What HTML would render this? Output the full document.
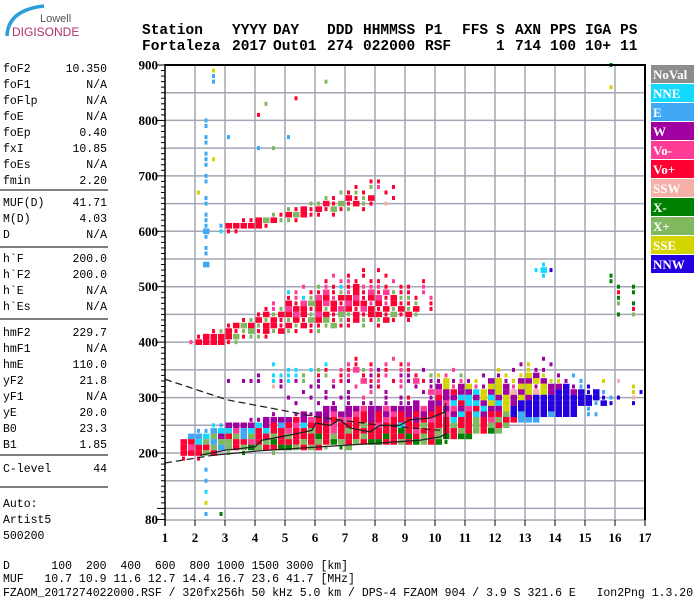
<!DOCTYPE html>
<html><head><meta charset="utf-8"><style>
html,body{margin:0;padding:0;background:#fff;}
svg{display:block;}
.mono{font-family:"Liberation Mono",monospace;font-size:11.5px;fill:#000;}
.hdr{font-family:"Liberation Mono",monospace;font-size:14.5px;font-weight:bold;fill:#000;}
.ax{font-family:"Liberation Serif",serif;font-size:13px;font-weight:bold;fill:#000;}
.lg{font-family:"Liberation Serif",serif;font-size:13px;font-weight:bold;fill:#fff;}
</style></head><body>
<svg id="chart" width="700" height="600" viewBox="0 0 700 600" xmlns="http://www.w3.org/2000/svg">
<g>
<path d="M7 36 Q8 10 44 6" stroke="#2a9fd8" stroke-width="3.5" fill="none"/>
<text x="40" y="22" style="font-family:'Liberation Sans',sans-serif;font-size:11px;fill:#555">Lowell</text>
<text x="12" y="36" style="font-family:'Liberation Sans',sans-serif;font-size:12px;fill:#b0306a">DIGISONDE</text>
</g>
<g id="header"></g>
<g id="leftpanel"></g>
<g id="grid"></g>
<g id="cells"></g>
<g id="curves"></g>
<g id="axes"></g>
<g id="legend"></g>
<g>
<text class="mono" x="3" y="569" xml:space="preserve">D      100  200  400  600  800 1000 1500 3000 [km]</text>
<text class="mono" x="3" y="582" xml:space="preserve">MUF   10.7 10.9 11.6 12.7 14.4 16.7 23.6 41.7 [MHz]</text>
<text class="mono" x="3" y="596" xml:space="preserve">FZAOM_2017274022000.RSF / 320fx256h 50 kHz 5.0 km / DPS-4 FZAOM 904 / 3.9 S 321.6 E   Ion2Png 1.3.20</text>
</g>
</svg>
<script>
const xTicks = [1,2,3,4,5,6,7,8,9,10,11,12,13,14,15,16,17];
const yTickLabels = [900,800,700,600,500,400,300,200,80];
const legendNames = ["NoVal","NNE","E","W","Vo-","Vo+","SSW","X-","X+","SSE","NNW"];
const legendColors = ["#8c8c8c","#14d9ff","#3fa9f5","#a0009f","#ff3c96","#ff0033","#f5b0a8","#008000","#80b860","#d4d400","#2200e0"];
const cellCodes = ["N","C","E","W","M","R","S","G","L","Y","B"];
const rowHeights = [900,890,880,870,860,840,830,810,800,790,780,770,760,750,740,730,720,710,700,690,680,670,660,650,640,630,620,610,600,590,580,570,560,540,530,520,510,500,490,480,470,460,450,440,430,420,410,400,370,360,350,340,330,320,310,300,290,280,270,260,250,240,230,220,210,200,190,170,150,130,110,90];
const rowCells = [
".... .... .... .... .... .... .... .... .... .... .... .... .... .... ...g",
".... ..y.",
".... ..e.",
".... ..e. .... .... .... .l..",
".... .... .... .... .... .... .... .... .... .... .... .... .... .... ...y",
".... .... .... .... .r..",
".... .... .... .l..",
".... .... .... r...",
".... .e..",
".... .e..",
"....",
".... .e.. e... .... e...",
".... .e..",
".... .... .... e.l.",
".... .e..",
".... .ey.",
".... .e..",
"....",
".... .e..",
".... .e.. .... .... .... .... ...r r...",
".... .... .... .... .... .... .r.l m.r.",
".... y... .... .... .... ...l rlr. .r..",
".... .e.. .... .... .... .lr. RrlR ..r.",
".... .e.. .... .... ...l lRrL rRlr .s..",
".... .... .... .... lrRr RrLr l.r.",
".... .e.. .... ..lr RLRr r.r.",
".... .e.. ..rr RLRl lr..",
".... .e.e RRRR Rr..",
".... .E.c rr..",
".... .e..",
"....",
".... .e..",
".... .e..",
".... .E.. .... .... .... .... .... .... .... .... .... .... ..c.",
".... .... .... .... .... .... ..r. r... .... .... .... .... .cCb",
".... .... .... .... .... ..m. r.r. .r.. .... .... .... .... ..c. .... ...g",
".... .... .... .... .... .r.m mr.r r.m. ..r. .... .... .... .... .... ...g",
".... .... .... .... ..m. lmrc rRmm mr.r r.m. .... .... .... .... .... .... g.g.",
".... .... .... .... cm.r rMrl mRrM rMlr r.m. .... .... .... .... .... .... r.g.",
".... .... .... .... rmcl MRmR RMrR MrRl lr.m .... .... .... .... .... .... g...",
".... .... .... ..m. RrML RMRr MRRm RmRr rl.r .... .... .... .... .... .... l.g.",
".... .... .... .rml MRRr RlRM RrMR rRlR lR.r .... .... .... .... .... .... ..r.",
".... .... .... rRlR RMRl MRrL lRrR RrLr Rl.. .... .... .... .... .... .... g.l.",
".... .... ..rl RlRr lRrL RLrl rRlr lRr. r...",
".... .... rRLR lRRr RlRr rlLr r.l. r...",
".... ..rl RrlL rRlR lr.r l...",
".... rRRR RLrl lr..",
"...m RRRR rl..",
".... .... .... .... .... .... .r.. ..m. .... .... .... .... ..w.",
".... .... .... ..c. .... .c.. mr.r .m.r m... .... .... ...w y..w",
".... .... .... .... cc.c lr.m rMlm wr.m r.w. ..m. .... y.w. yww.",
".... .... .... w.cc ccl. rl.r m.rw rm.w wr.l ym.l ..w. wy.y YWy. w.e.",
".... .... w.ww w.cw cwl. w.mr w.Mr m.rm wMrw wYwm wy.W YwyW WYWy yw.e ..y. s...",
".... .... .... ..sw ...w w.w. .m.w r..m .w.w WYmW YmwY YWmY YwYW WBwe b... ..y.",
".... .... .... .... ..w. .w.. w..m .w.. ..wM MWRW WCYW YWSW YSYW BBWB bBe. ..yb",
".... .... .... .... w..w .w.w w.m. .w.w r..w RWWC CWYC WYWY WBBB BBBB BBbe b.s.",
".... .... .... .... .w.. w.w. w.ww .w.w wW.W WMCR CCWY CYWB BBBB BBBB BeBb ..b.",
".... .... .... .... .... .WW. WWMW WMWW WWMW RWMW MRCW WYBB BBBB BBB. e...",
".... .... .... ..w. .wWw WWMW WMRW RWMR WRWR RMWC RCWR RLBE BBBE BBB. ee..",
".... .... ...w wWWW WRWM RWRM MRRW RMRR RWRM RRCR RLRM LRRE EE..",
".... ..ce WWWW CWRE RMCR RRMR RRLR MRRC RRLR RRLR RLRL RL..",
".... eeEC CMEC RCRR MRRL RRMR LRRR RRRG RMRR LRRL RLRG L...",
"...E ECLW RLEL RRLR LRRR GRLR RRLR RGRR GRLR LGRG G...",
"..RR CLEL LRRM RLGR RRLR LRGL RLRG GRRL RGLR Gg..",
"..RM RRLE LRLG LRRG GLRL Rl.g L...",
"..RR RLR. l.g. ..l.",
"..r. r...",
".... .e..",
".... .e..",
".... .c..",
".... .y..",
".... .e.g"
];
const upperDashF = [1,3.07,6.07,8.17,10.17];
const upperDashH = [333,296,265,250,241];
const lowerDashF = [1,2.6];
const lowerDashH = [182,196];
const solidF = [2.6,4.17,6.17,8.17,9.5,10.17,10.4];
const solidH = [196,204,211,218,223,229,236];
const jagF = [2.17,3,4,4.23,4.83,5.5,5.9,6.03,6.5,6.83,7.17,7.83,8.17,8.83,9.17,9.83,10.33];
const jagH = [196,205,211,223,229,236,241,254,250,260,245,238,250,250,260,263,274];
const paramNames = ["foF2","foF1","foFlp","foE","foEp","fxI","foEs","fmin","MUF(D)","M(D)","D","h`F","h`F2","h`E","h`Es","hmF2","hmF1","hmE","yF2","yF1","yE","B0","B1","C-level"];
const paramValues = ["10.350","N/A","N/A","N/A","0.40","10.85","N/A","2.20","41.71","4.03","N/A","200.0","200.0","N/A","N/A","229.7","N/A","110.0","21.8","N/A","20.0","23.3","1.85","44"];
const paramY = [72,88,104,120,136,152,168,184,206,222,238,262,278,294,310,336,352,368,384,400,416,432,448,472];
const hdrTop = ["Station","YYYY","DAY","DDD","HHMMSS","P1","FFS","S","AXN","PPS","IGA","PS"];
const hdrTopX = [142,232,273,327,363,425,462,496,515,550,585,620];
const hdrBot = ["Fortaleza","2017","Out01","274","022000","RSF","1","714","100","10+","11"];
const hdrBotX = [142,232,273,327,363,425,496,515,550,585,620];

const NS="http://www.w3.org/2000/svg";
const xOf = f => 165 + (f-1)*30;
const yOf = h => 453 - (h-200)*0.5543;
function mk(tag, parent){ const e=document.createElementNS(NS,tag); parent.appendChild(e); return e; }

const hdr=document.getElementById('header');
hdrTop.forEach((t,i)=>{ const e=mk('text',hdr); e.setAttribute('class','hdr'); e.setAttribute('x',hdrTopX[i]); e.setAttribute('y',34); e.textContent=t;

 });
hdrBot.forEach((t,i)=>{ const e=mk('text',hdr); e.setAttribute('class','hdr'); e.setAttribute('x',hdrBotX[i]); e.setAttribute('y',50); e.textContent=t;

 });

const lp=document.getElementById('leftpanel');
paramNames.forEach((n,i)=>{
 const a=mk('text',lp); a.setAttribute('class','mono'); a.setAttribute('x',3); a.setAttribute('y',paramY[i]); a.textContent=n;
 
 
 const b=mk('text',lp); b.setAttribute('class','mono'); b.setAttribute('x',107); b.setAttribute('y',paramY[i]); b.setAttribute('text-anchor','end'); b.textContent=paramValues[i];
 
 
});
[190,247,319,455,487].forEach(y=>{ const l=mk('line',lp); l.setAttribute('x1',0); l.setAttribute('x2',108); l.setAttribute('y1',y); l.setAttribute('y2',y); l.setAttribute('stroke','#000');
 
  });
[["Auto:",507],["Artist5",523],["500200",539]].forEach(p=>{ const a=mk('text',lp); a.setAttribute('class','mono'); a.setAttribute('x',3); a.setAttribute('y',p[1]); a.textContent=p[0];
 
  });

const g=document.getElementById('grid');
for(let f=2; f<=16; f++){ const l=mk('line',g); l.setAttribute('x1',xOf(f)); l.setAttribute('x2',xOf(f)); l.setAttribute('y1',65); l.setAttribute('y2',520); l.setAttribute('stroke','#a4a6b4'); l.setAttribute('stroke-width','1.5');
 
  }
for(let h=100; h<=850; h+=50){ const l=mk('line',g); l.setAttribute('x1',165); l.setAttribute('x2',645); l.setAttribute('y1',yOf(h)); l.setAttribute('y2',yOf(h)); l.setAttribute('stroke','#a4a6b4'); l.setAttribute('stroke-width','1.5');
 
  }
{ const l=mk('line',g); l.setAttribute('x1',165); l.setAttribute('x2',645); l.setAttribute('y1',520); l.setAttribute('y2',520); l.setAttribute('stroke','#a4a6b4'); l.setAttribute('stroke-width','1.5');
 
  }

const colorOf={}; cellCodes.forEach((c,i)=>colorOf[c]=legendColors[i]);
const cg=document.getElementById('cells');
rowHeights.forEach((h,i)=>{
 const s=rowCells[i].replace(/ /g,'');
 for(let j=0;j<s.length;j++){
  const ch=s[j]; if(ch==='.') continue;
  const up=ch.toUpperCase(); const big=(ch===up);
  const x=xOf(1+j*0.25), y=yOf(h+5);
  const r=mk('rect',cg);
  if(big){ r.setAttribute('x',x+0.5); r.setAttribute('y',y); r.setAttribute('width',6.5); r.setAttribute('height',5.6); }
  else { r.setAttribute('x',x+2); r.setAttribute('y',y+0.8); r.setAttribute('width',3); r.setAttribute('height',4); }
  r.setAttribute('fill',colorOf[up]);
  
  
 }
});

const cv=document.getElementById('curves');
function poly(F,H,dash,name){ const p=mk('polyline',cv); p.setAttribute('points',F.map((f,i)=>xOf(f)+','+yOf(H[i])).join(' '));
 p.setAttribute('fill','none'); p.setAttribute('stroke','#222'); p.setAttribute('stroke-width','1.3'); if(dash) p.setAttribute('stroke-dasharray',dash);
 
  }
poly(upperDashF,upperDashH,'7,4','upper-dashed-profile');
poly(lowerDashF,lowerDashH,'7,4','lower-dashed-profile');
poly(solidF,solidH,null,'true-height-profile');
poly(jagF,jagH,null,'trace-line');
{ const l=mk('line',cv); l.setAttribute('x1',xOf(10.35)); l.setAttribute('x2',xOf(10.35)); l.setAttribute('y1',yOf(290)); l.setAttribute('y2',yOf(225)); l.setAttribute('stroke','#222'); l.setAttribute('stroke-width','1.3');
 
  }

const ax=document.getElementById('axes');
function line(x1,y1,x2,y2,w,name){ const l=mk('line',ax); l.setAttribute('x1',x1); l.setAttribute('y1',y1); l.setAttribute('x2',x2); l.setAttribute('y2',y2); l.setAttribute('stroke','#000'); l.setAttribute('stroke-width',w);
 
  }
line(165,64,165,526,1.5,'y-axis-line');
line(165,65,646,65,2,'top-border');
line(645,64,645,520,2,'right-border');
for(let h=80; h<=900; h+=10){ const L=(h%100===0||h===80)?8:4; line(165-L,yOf(h),165,yOf(h),1,'y-tick'); }
yTickLabels.forEach(h=>{ const t=mk('text',ax); t.setAttribute('class','ax'); t.setAttribute('x',158); t.setAttribute('y',yOf(h)+4.5); t.setAttribute('text-anchor','end'); t.textContent=h;
 
  });
xTicks.forEach(f=>{ line(xOf(f),520,xOf(f),526,1,'x-tick');
 const t=mk('text',ax); t.setAttribute('class','ax'); t.setAttribute('x',xOf(f)); t.setAttribute('y',542); t.setAttribute('text-anchor','middle'); t.textContent=f;
 
  });

const lg=document.getElementById('legend');
legendNames.forEach((n,i)=>{
 const y=65+i*19;
 const r=mk('rect',lg); r.setAttribute('x',651); r.setAttribute('y',y); r.setAttribute('width',43); r.setAttribute('height',18); r.setAttribute('fill',legendColors[i]);
 
 
 const t=mk('text',lg); t.setAttribute('class','lg'); t.setAttribute('x',653); t.setAttribute('y',y+14); t.textContent=n;
 
 
});
</script>
</body></html>
